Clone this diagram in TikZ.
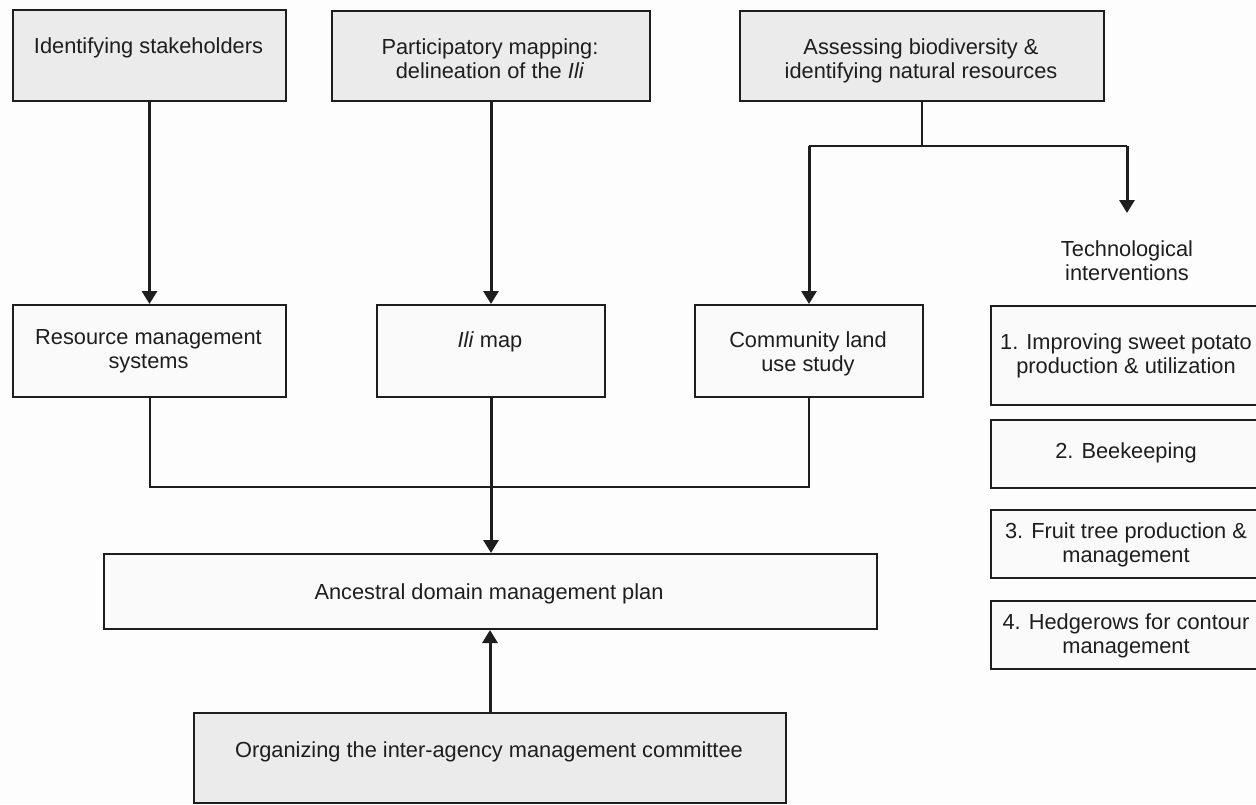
\documentclass[tikz,border=0pt]{standalone}
\usepackage{fontspec}
\setmainfont{Liberation Sans}
\usetikzlibrary{arrows.meta}
\definecolor{ink}{HTML}{1E1E1E}
\definecolor{shade}{HTML}{EBEBEB}
\definecolor{paper}{HTML}{FAFAFA}
\definecolor{sheet}{HTML}{FDFDFD}
\newcommand\topstrut{\rule{0pt}{16pt}}
\begin{document}
\begin{tikzpicture}[x=1pt,y=-1pt,
  box/.style={draw=ink, line width=2pt, fill=paper, inner sep=0pt, anchor=north west},
  gbox/.style={box, fill=shade},
  lbl/.style={inner sep=0pt, align=center, anchor=north, text=ink,
              font=\fontsize{21.8}{24.5}\selectfont},
  arr/.style={draw=ink, line width=3pt, -{Triangle[length=13pt,width=15pt]}},
  link/.style={draw=ink, line width=2pt}]

% page
\fill[sheet] (0,0) rectangle (1256,804);
\useasboundingbox (0,0) rectangle (1256,804);

% first row: activities
\node[gbox, minimum width=273pt, minimum height=91pt] (ids) at (12,9) {};
\node[lbl] (idsT) at (148.5,37) {\topstrut Identifying stakeholders};
\node[gbox, minimum width=318pt, minimum height=90pt] (pmap) at (331,10) {};
\node[lbl] (pmapT) at (490,38) {\topstrut Participatory mapping:\\delineation of the \textit{Ili}};
\node[gbox, minimum width=364pt, minimum height=90pt] (bio) at (739,10) {};
\node[lbl] (bioT) at (921,38) {\topstrut Assessing biodiversity \&\\identifying natural resources};

% second row: outputs
\node[box, minimum width=273pt, minimum height=92pt] (rms) at (12,304) {};
\node[lbl] (rmsT) at (148.5,328) {\topstrut Resource management\\systems};
\node[box, minimum width=228pt, minimum height=92pt] (ilimap) at (376,304) {};
\node[lbl] (ilimapT) at (490,331) {\topstrut\textit{Ili} map};
\node[box, minimum width=228pt, minimum height=92pt] (land) at (694,304) {};
\node[lbl] (landT) at (808,331) {\topstrut Community land\\use study};

% technological interventions
\coordinate (techTip) at (1127,213);
\node[lbl] (techT) at (1127,240) {\topstrut Technological\\interventions};
\node[box, minimum width=272pt, minimum height=99pt] (t1) at (990,305) {};
\node[lbl] (t1T) at (1126,333) {\topstrut 1. Improving sweet potato\\production \& utilization};
\node[box, minimum width=272pt, minimum height=68pt] (t2) at (990,419) {};
\node[lbl] (t2T) at (1126,442) {\topstrut 2. Beekeeping};
\node[box, minimum width=272pt, minimum height=68pt] (t3) at (990,509) {};
\node[lbl] (t3T) at (1126,522) {\topstrut 3. Fruit tree production \&\\management};
\node[box, minimum width=272pt, minimum height=68pt] (t4) at (990,600) {};
\node[lbl] (t4T) at (1126,613) {\topstrut 4. Hedgerows for contour\\management};

% plan and committee
\node[box, minimum width=773pt, minimum height=75pt] (adp) at (103,553) {};
\node[lbl] (adpT) at (489,583) {\topstrut Ancestral domain management plan};
\node[gbox, minimum width=592pt, minimum height=90pt] (iamc) at (193,712) {};
\node[lbl] (iamcT) at (489,741) {\topstrut Organizing the inter-agency management committee};

% connectors
\draw[arr] (ids.south) -- (rms.north);
\draw[arr] (pmap.south) -- (ilimap.north);

\coordinate (split) at (bio.south |- 0,146);
\draw[link] (bio.south) -- (split);
\draw[link] (land.north |- split) -- (techTip |- split);
\draw[arr] (land.north |- split) -- (land.north);
\draw[arr] (techTip |- split) -- (techTip);

\coordinate (merge) at (0,487);
\draw[link] (rms.south) -- (rms.south |- merge) -- (land.south |- merge) -- (land.south);
\draw[arr] (ilimap.south) -- (ilimap.south |- adp.north);
\draw[arr] (iamc.north) -- (iamc.north |- adp.south);
\end{tikzpicture}
\end{document}
